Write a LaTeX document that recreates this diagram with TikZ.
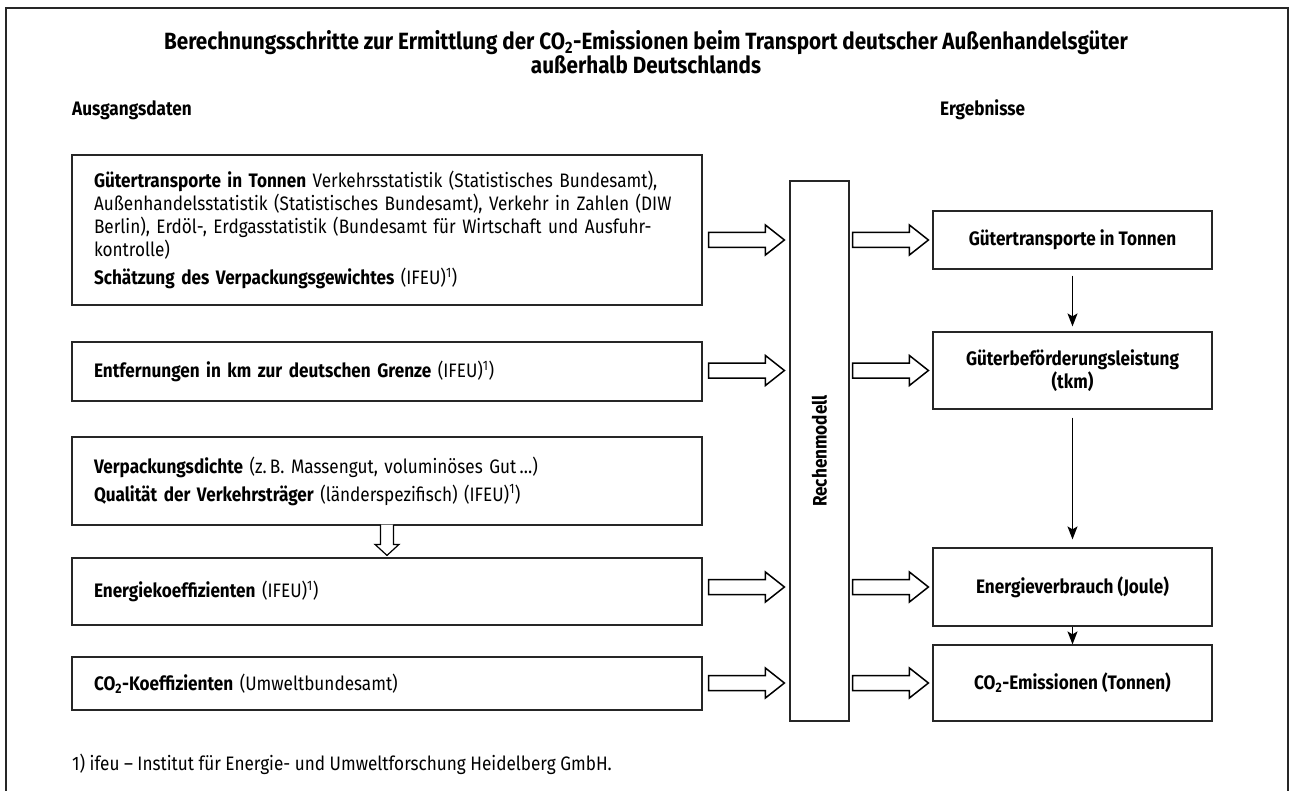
\documentclass[tikz,border=0pt]{standalone}
\usepackage{fontspec}
\setmainfont{Fira Sans}[FakeStretch=0.88]
\usetikzlibrary{positioning,calc,arrows.meta}

% hollow block arrow: from #1 to #2, at the height of node #3
\newcommand{\fatarrow}[3]{%
  \path[fat] let \p1=(#1), \p2=(#2), \p3=(#3) in
    (\x1,\y3+7.5pt) -- (\x2-19pt,\y3+7.5pt) -- (\x2-19pt,\y3+15pt) -- (\x2,\y3)
    -- (\x2-19pt,\y3-15pt) -- (\x2-19pt,\y3-7.5pt) -- (\x1,\y3-7.5pt) -- cycle;}

\begin{document}
\begin{tikzpicture}[x=1pt,y=-1pt]
\tikzstyle{every node}+=[font=\fontsize{19.5}{23}\selectfont, inner sep=0pt]
\tikzstyle{inbox}=[draw=black!85, line width=1.2pt, minimum width=630pt, text width=586pt, inner xsep=22pt, align=left]
\tikzstyle{resbox}=[draw=black!85, line width=1.2pt, minimum width=279pt, align=center, font=\fontsize{19.5}{23}\selectfont\bfseries]
\tikzstyle{heading}=[anchor=west, font=\fontsize{19.5}{22}\selectfont\bfseries]
\tikzstyle{fat}=[draw=black, fill=white, line width=1.5pt, line join=miter]
\tikzstyle{flow}=[draw=black, line width=1.2pt, -{Stealth[length=13pt,width=10pt,inset=3pt]}]

\useasboundingbox (0,0) rectangle (1292,791);
\draw[line width=2pt, black!85] (6,800) -- (6,8) -- (1288,8) -- (1288,800);

\node[align=center, font=\fontsize{23.5}{24}\selectfont\bfseries] (title) at (646,52)
  {Berechnungsschritte zur Ermittlung der CO\textsubscript{2}-Emissionen beim Transport deutscher Außenhandelsgüter\\außerhalb Deutschlands};
\node[heading] (inputs) at (72,110) {Ausgangsdaten};
\node[heading] (results) at (940,110) {Ergebnisse};

% input data
\node[inbox, minimum height=150pt] (in1) at (387,230)
  {{\bfseries Gütertransporte in Tonnen} Verkehrsstatistik (Statistisches Bundesamt),\\
   Außenhandelsstatistik (Statistisches Bundesamt), Verkehr in Zahlen (DIW\\
   Berlin), Erdöl-, Erdgasstatistik (Bundesamt für Wirtschaft und Ausfuhr-\\
   kontrolle)\\[5pt]
   {\bfseries Schätzung des Verpackungsgewichtes} (IFEU)\textsuperscript{1})};
\node[inbox, minimum height=59pt] (in2) [below of=in1, node distance=141.5pt]
  {{\bfseries Entfernungen in km zur deutschen Grenze} (IFEU)\textsuperscript{1})};
\node[inbox, minimum height=88pt] (in3) [below of=in2, node distance=109.5pt]
  {{\bfseries Verpackungsdichte} (z.\,B. Massengut, voluminöses Gut\,\dots)\\[5pt]
   {\bfseries Qualität der Verkehrsträger} (länderspezifisch) (IFEU)\textsuperscript{1})};
\node[inbox, minimum height=67pt] (in4) [below of=in3, node distance=110.5pt]
  {{\bfseries Energiekoeffizienten} (IFEU)\textsuperscript{1})};
\node[inbox, minimum height=53pt] (in5) [below of=in4, node distance=92pt]
  {{\bfseries CO\textsubscript{2}-Koeffizienten} (Umweltbundesamt)};

% model
\node[draw=black!85, line width=1.2pt, minimum width=59pt, minimum height=540pt] (model) at (819.5,451) {};
\node[rotate=90, font=\fontsize{19.5}{22}\selectfont\bfseries] (modeltext) at (model.center) {Rechenmodell};

% results
\node[resbox, minimum height=58pt] (res1) at (1072.5,240) {Gütertransporte in Tonnen};
\node[resbox, minimum height=77pt] (res2) [below of=res1, node distance=130.5pt] {Güterbeförderungsleistung\\(tkm)};
\node[resbox, minimum height=78pt] (res3) [below of=res2, node distance=216.5pt] {Energieverbrauch (Joule)};
\node[resbox, minimum height=76pt] (res4) [below of=res3, node distance=96pt] {CO\textsubscript{2}-Emissionen (Tonnen)};

\node[anchor=west] (note) at (72,764) {1) ifeu – Institut für Energie- und Umweltforschung Heidelberg GmbH.};

\foreach \a/\r in {in1/res1, in2/res2, in4/res3, in5/res4} {
  \fatarrow{$(\a.east)+(6,0)$}{$(model.west)+(-5,0)$}{\r}
  \fatarrow{$(model.east)+(3,0)$}{$(\r.west)+(-4,0)$}{\r}
}

\draw[fat, line width=1.2pt] let \p1=(in3.south), \p2=(in4.north) in
  (\x1-6.5pt,\y1+1pt) -- (\x1-6.5pt,\y2+13pt) -- (\x1-12pt,\y2+13pt) -- (\x1,\y2+2pt)
  -- (\x1+12pt,\y2+13pt) -- (\x1+6.5pt,\y2+13pt) -- (\x1+6.5pt,\y1+1pt);

\draw[flow] ($(res1.south)+(0,6)$) -- ($(res2.north)+(0,-5)$);
\draw[flow] ($(res2.south)+(0,8)$) -- ($(res3.north)+(0,-8)$);
\draw[flow] (res3.south) -- (res4.north);
\end{tikzpicture}
\end{document}
